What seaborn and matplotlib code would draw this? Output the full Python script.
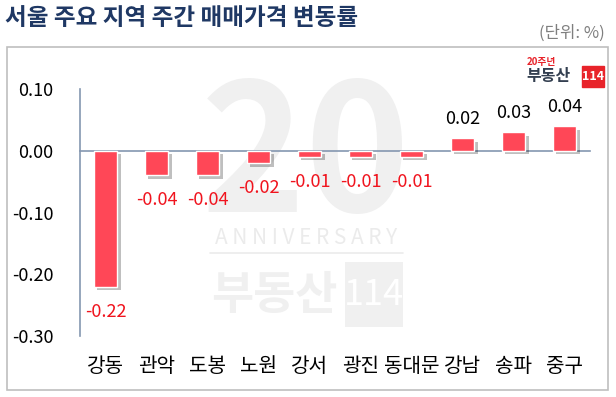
import matplotlib
matplotlib.use("Agg")
import matplotlib.pyplot as plt
import matplotlib.patheffects as pe
from matplotlib.patches import Rectangle
import seaborn as sns
import pandas as pd
import numpy as np

categories = ["강동", "관악", "도봉", "노원", "강서", "광진", "동대문", "강남", "송파", "중구"]
values = [-0.22, -0.04, -0.04, -0.02, -0.01, -0.01, -0.01, 0.02, 0.03, 0.04]
value_labels = ["-0.22", "-0.04", "-0.04", "-0.02", "-0.01", "-0.01", "-0.01", "0.02", "0.03", "0.04"]
yticks = [0.10, 0.00, -0.10, -0.20, -0.30]
ytick_labels = ["0.10", "0.00", "-0.10", "-0.20", "-0.30"]
title = "서울 주요 지역 주간 매매가격 변동률"
unit = "(단위: %)"

sns.set_theme(style="white")
plt.rcParams['font.family'] = ['Noto Sans CJK KR', 'DejaVu Sans']

W, H = 616, 397
fig = plt.figure(figsize=(W / 100, H / 100), dpi=100)

def fx(px):
    return px / W

def fy(py):
    return 1 - py / H

# outer frame
fig.patches.append(Rectangle((fx(7), fy(390)), fx(608) - fx(7), fy(47) - fy(390),
                             transform=fig.transFigure, fill=False,
                             edgecolor="#BFBFBF", linewidth=1.2, zorder=-2))

# watermark (behind the chart)
wm = "#F0F0F0"
fig.text(fx(306), fy(160), "20", fontsize=128, fontweight="bold", color=wm,
         ha="center", va="center", zorder=-1)
fig.text(fx(306), fy(238), "A N N I V E R S A R Y", fontsize=15, color="#EBEBEB",
         ha="center", va="center", zorder=-1)
fig.lines.append(plt.Line2D([fx(210), fx(403)], [fy(253), fy(253)],
                            transform=fig.transFigure, color="#EBEBEB", lw=1.2, zorder=-1))
fig.text(fx(274), fy(296), "부동산", fontsize=33, fontweight="bold", color=wm,
         ha="center", va="center", zorder=-1)
fig.patches.append(Rectangle((fx(345), fy(327)), fx(403) - fx(345), fy(262) - fy(327),
                             transform=fig.transFigure, facecolor="#F0F0F0",
                             edgecolor="none", zorder=-1))
fig.text(fx(374), fy(295), "114", fontsize=26, color="white",
         ha="center", va="center", zorder=-0.5)

ax = fig.add_axes([fx(80), fy(336), fx(590) - fx(80), fy(89) - fy(336)])
ax.set_facecolor("none")

df = pd.DataFrame({"region": categories, "value": values})
sns.barplot(data=df, x="region", y="value", color="#FF4757", width=0.46,
            saturation=1, ax=ax, zorder=3)
for p in ax.patches:
    p.set_path_effects([pe.SimplePatchShadow(offset=(2.5, -2.5), shadow_rgbFace="#000000", alpha=0.25),
                        pe.Normal()])

ax.set_xlim(-0.5, len(categories) - 0.5)
ax.set_ylim(-0.30, 0.10)

for i, (v, lab) in enumerate(zip(values, value_labels)):
    if v < 0:
        ax.annotate(lab, (i, v), xytext=(0, -18), textcoords="offset points",
                    ha="center", va="center", fontsize=13, color="#F0141E")
    else:
        ax.annotate(lab, (i, v), xytext=(0, 14), textcoords="offset points",
                    ha="center", va="center", fontsize=13, color="#000000")

axis_col = "#8497B0"
for s in ["top", "right"]:
    ax.spines[s].set_visible(False)
ax.spines["left"].set_color(axis_col)
ax.spines["bottom"].set_color(axis_col)
ax.spines["left"].set_linewidth(1.2)
ax.spines["bottom"].set_linewidth(1.2)
ax.spines["bottom"].set_position(("data", 0))

ax.set_xticks(np.arange(len(categories)))
ax.set_xticklabels([])
ax.tick_params(axis="x", which="major", length=0)
ax.set_xticks(np.arange(len(categories)) + 0.5, minor=True)
ax.tick_params(axis="x", which="minor", direction="in", length=6, width=1.2, color=axis_col)

ax.set_yticks(yticks)
ax.set_yticklabels(ytick_labels)
ax.tick_params(axis="y", direction="in", length=6, width=1.2, color=axis_col,
               pad=19, labelsize=13, labelcolor="#000000")

for i, c in enumerate(categories):
    ax.annotate(c, (i, 0), xycoords=("data", "axes fraction"), xytext=(0, -22),
                textcoords="offset points", ha="center", va="center",
                fontsize=14.5, color="#000000")

ax.set_xlabel("")
ax.set_ylabel("")
ax.grid(False)

fig.text(fx(5), fy(18), title, fontsize=17, fontweight="bold", color="#1F3864",
         ha="left", va="center")
fig.text(fx(605), fy(33), unit, fontsize=12, color="#7F7F7F", ha="right", va="center")

# logo
fig.text(fx(527), fy(62), "20주년", fontsize=7, fontweight="bold", color="#E8232A",
         ha="left", va="center")
fig.text(fx(526), fy(76), "부동산", fontsize=11.5, fontweight="bold", color="#333F50",
         ha="left", va="center")
fig.patches.append(Rectangle((fx(582), fy(87)), fx(604) - fx(582), fy(66) - fy(87),
                             transform=fig.transFigure, color="#E8232A", zorder=2))
fig.text(fx(593), fy(76.5), "114", fontsize=9, fontweight="bold", color="white",
         ha="center", va="center", zorder=3)

fig.savefig("out.png", dpi=100)
